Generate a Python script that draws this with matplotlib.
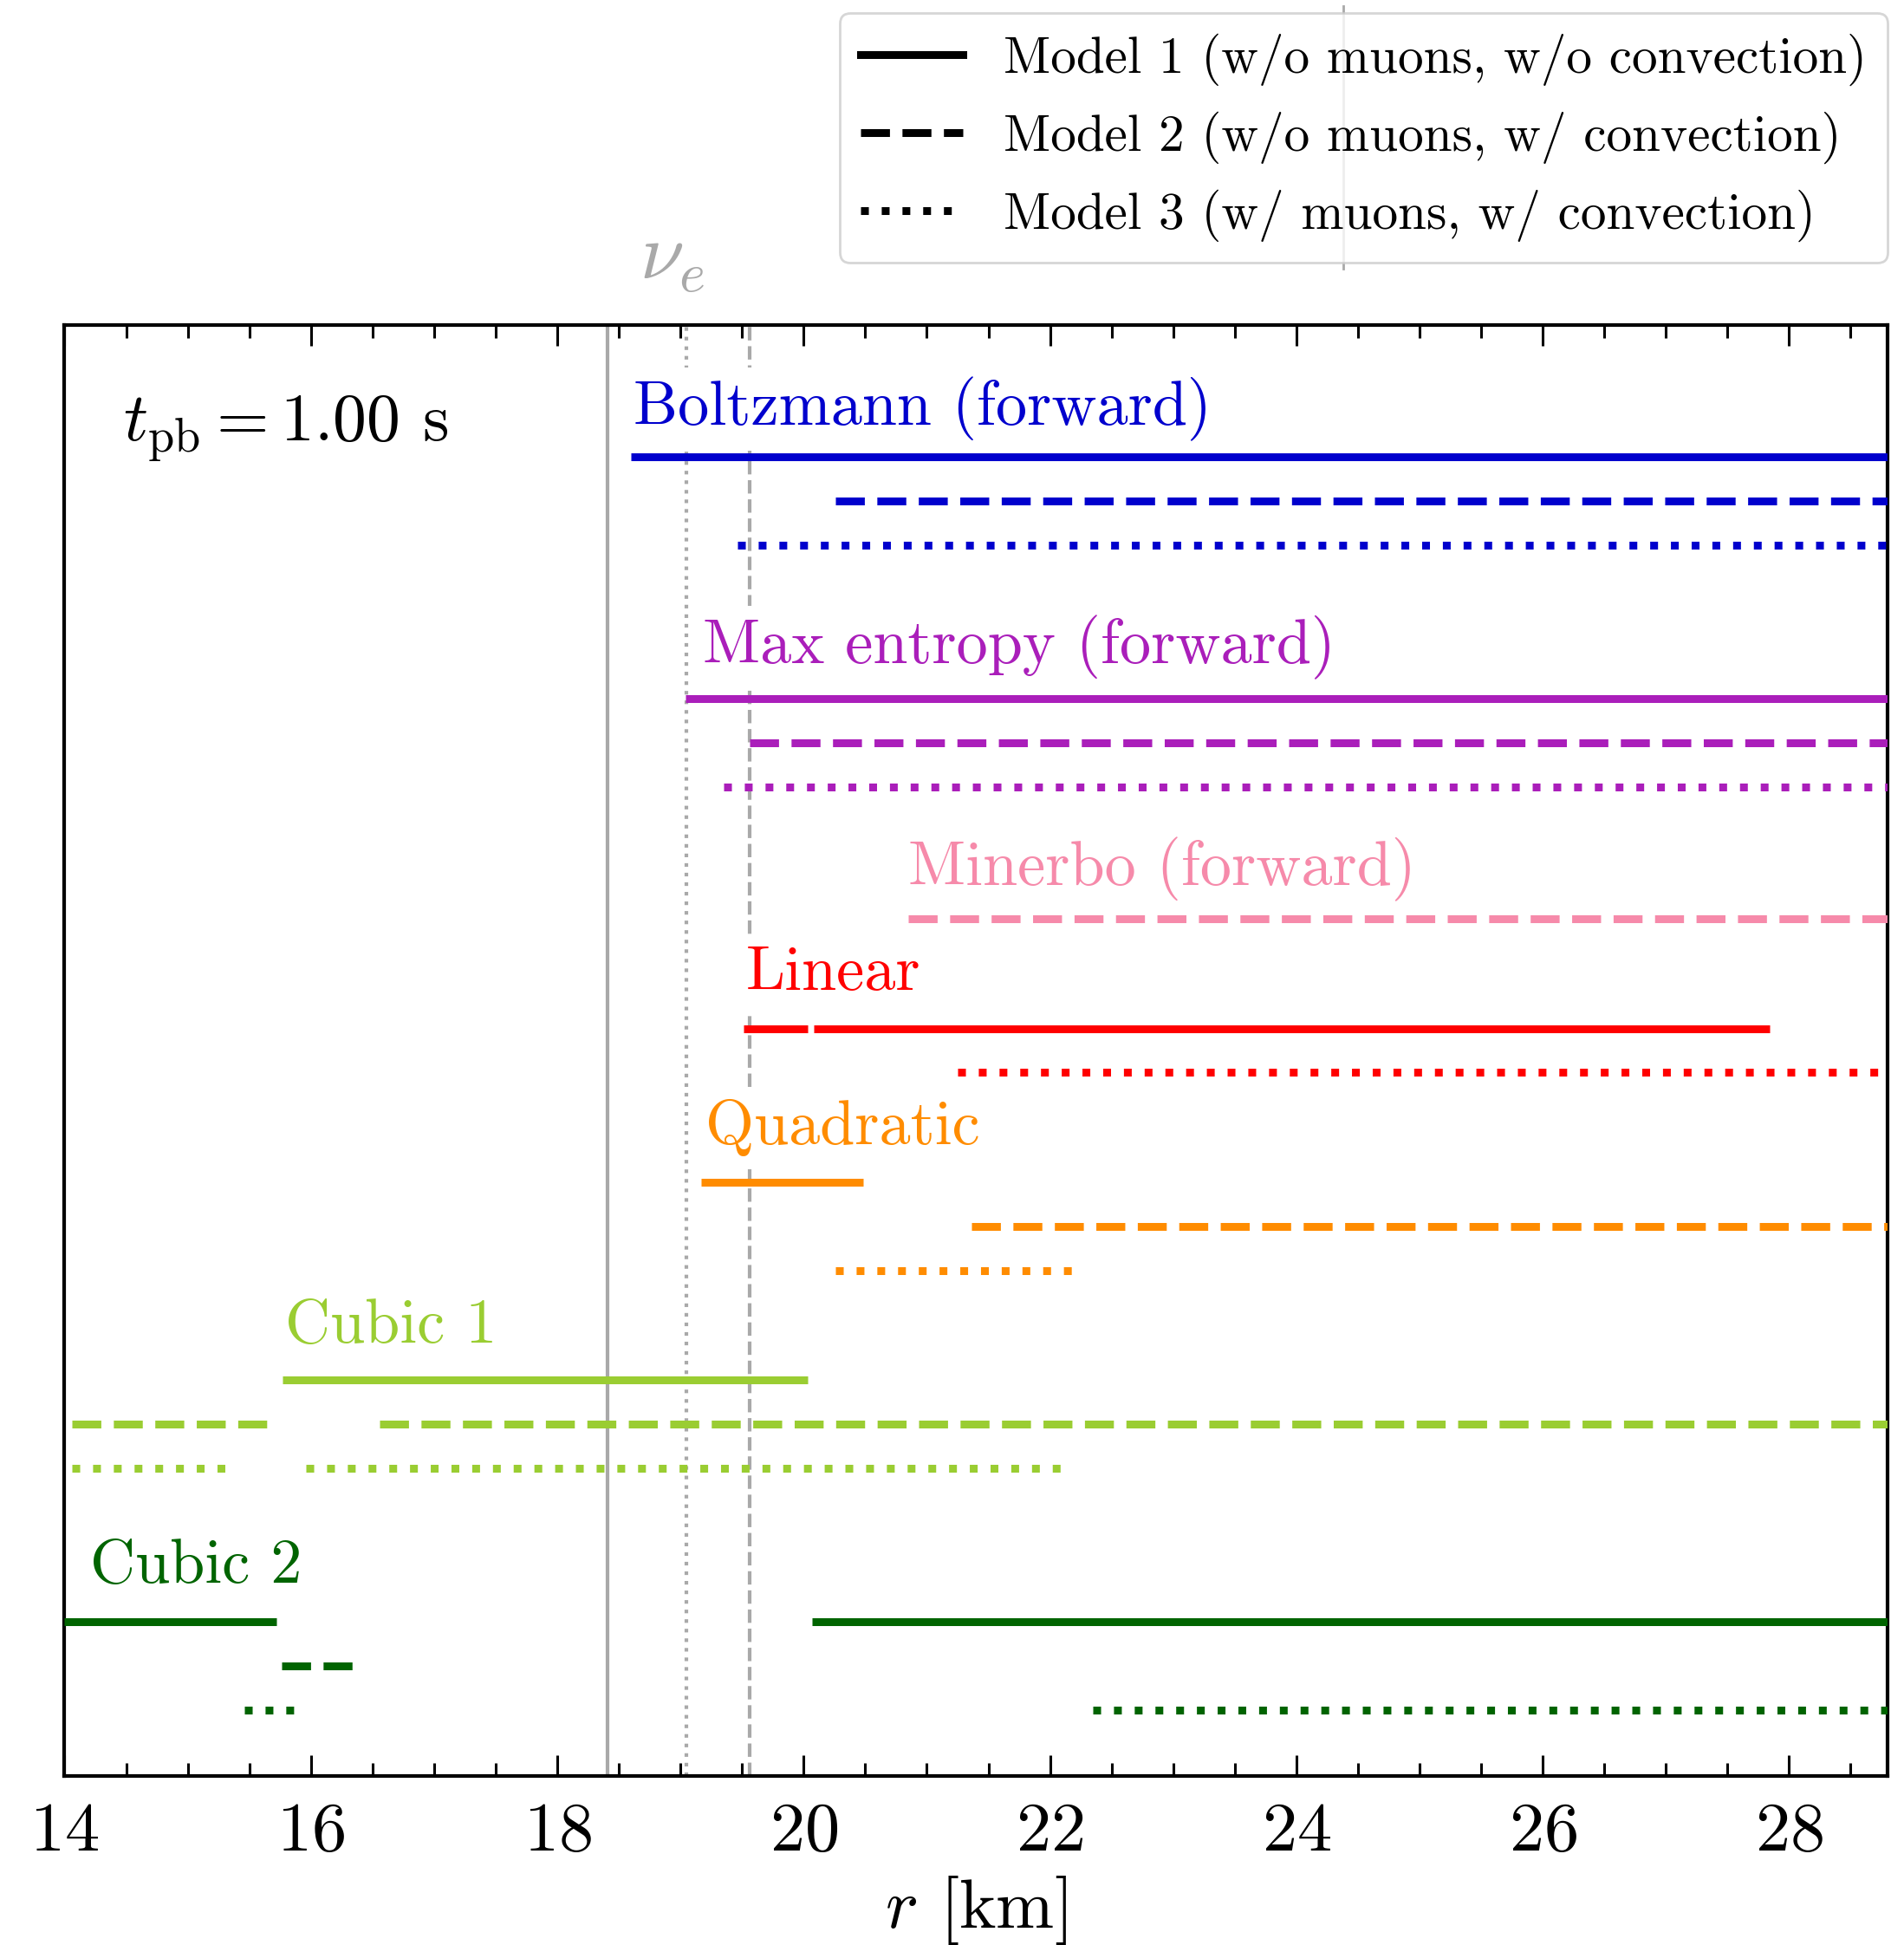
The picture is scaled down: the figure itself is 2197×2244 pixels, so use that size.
import numpy as np
import matplotlib
matplotlib.use("Agg")
import matplotlib.pyplot as plt
from matplotlib.lines import Line2D

plt.rcParams['font.family'] = 'cmr10'
plt.rcParams['mathtext.fontset'] = 'cm'
plt.rcParams['axes.formatter.use_mathtext'] = True

# methods, colours and the y row used by each model line
methods = ["Boltzmann (forward)", "Max entropy (forward)", "Minerbo (forward)",
           "Linear", "Quadratic", "Cubic 1", "Cubic 2"]
colors = ["#0000CD", "#AA1EBA", "#F68AAA", "red", "darkorange", "yellowgreen", "darkgreen"]
y_m1 = [3.0, 8.5, 12.5, 16.0, 19.5, 24.0, 29.5]
y_m2 = [4.0, 9.5, 13.5, 17.0, 20.5, 25.0, 30.5]
y_m3 = [5.0, 10.5, 14.5, 17.0, 21.5, 26.0, 31.5]

# label anchor (x, baseline y) for each method
label_x = [18.62, 19.18, 20.85, 19.53, 19.20, 15.79, 14.21]
label_y = [2.27, 7.70, 12.75, 15.12, 18.62, 23.15, 28.61]

# radial ranges [km] where each model is valid
seg_m1 = [[(18.60, 29.0)], [(19.04, 29.0)], [],
          [(19.51, 20.03), (20.08, 27.84)], [(19.17, 20.48)],
          [(15.77, 20.03)], [(14.0, 15.72), (20.07, 29.0)]]
seg_m2 = [[(20.26, 29.0)], [(19.56, 29.0)], [(20.85, 29.0)],
          [], [(21.36, 29.0)],
          [(14.06, 15.66), (16.56, 29.0)], [(15.76, 16.37)]]
seg_m3 = [[(19.46, 29.0)], [(19.35, 29.0)], [],
          [(21.25, 29.0)], [(20.26, 22.26)],
          [(14.06, 15.34), (15.96, 22.15)], [(15.46, 15.86), (22.35, 29.0)]]

# vertical markers
r_vlines = [18.41, 19.05, 19.56]
vline_styles = ["-", ":", "--"]

model_labels = ["Model 1 (w/o muons, w/o convection)",
                "Model 2 (w/o muons, w/ convection)",
                "Model 3 (w/ muons, w/ convection)"]
model_styles = ["-", "--", ":"]

LW = 3.25

fig = plt.figure(figsize=(2197 / 200, 2244 / 200), dpi=200)
ax = fig.add_axes([0.0339, 0.0869, 0.9575, 0.746])

for xv, ls in zip(r_vlines, vline_styles):
    ax.axvline(xv, color="darkgray", ls=ls, lw=1.5, zorder=1)

for i, name in enumerate(methods):
    for k, (segs, ys) in enumerate(zip([seg_m1, seg_m2, seg_m3], [y_m1, y_m2, y_m3])):
        for (a, b) in segs[i]:
            ax.plot([a, b], [ys[i], ys[i]], color=colors[i],
                    ls=model_styles[k], lw=LW, zorder=3, solid_capstyle="butt",
                    dash_capstyle="butt")
    ax.text(label_x[i], label_y[i], name, color=colors[i], fontsize=26,
            va="baseline", ha="left", zorder=2,
            bbox=dict(boxstyle="square,pad=0.15", facecolor="white", edgecolor="none"))

ax.text(0.032, 0.92, r"$t_{\rm pb} = 1.00$ s", transform=ax.transAxes,
        fontsize=28, va="baseline", ha="left")

ax.text(18.93, 1.032, r"$\nu_e$", transform=ax.get_xaxis_transform(),
        fontsize=33, color="darkgray", ha="center", va="baseline")

ax.set_xlim(14, 28.8)
ax.set_ylim(33, 0)
ax.set_yticks([])
ax.set_xticks(np.arange(14, 29, 2))
ax.set_xticks(np.arange(14, 29, 0.5), minor=True)
ax.tick_params(axis="x", which="both", direction="in", top=True, labelsize=29, pad=11)
ax.tick_params(axis="x", which="major", length=8.6, width=1.1)
ax.tick_params(axis="x", which="minor", length=5.3, width=1.1)
for sp in ax.spines.values():
    sp.set_linewidth(1.5)
ax.set_xlabel(r"$r$ [km]", fontsize=29, labelpad=4)

# thin marker line crossing the legend
fig.add_artist(Line2D([1550 / 2197, 1550 / 2197], [1 - 7 / 2244, 1 - 310 / 2244],
                      transform=fig.transFigure, color="darkgray", lw=1.0, zorder=0))

handles = [Line2D([], [], color="black", ls=s, lw=LW) for s in model_styles]
leg = ax.legend(handles, model_labels, loc="lower right", bbox_to_anchor=(1.0, 1.043),
                fontsize=21.3, frameon=True, handlelength=2.0, borderaxespad=0)
leg.set_zorder(5)

fig.savefig("out.png", dpi=200)
